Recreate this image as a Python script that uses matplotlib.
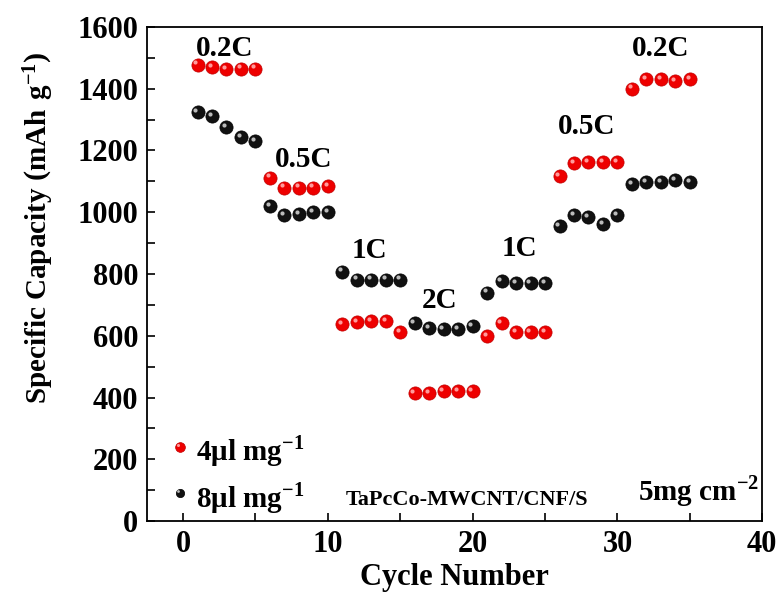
import matplotlib
matplotlib.use('Agg')
import matplotlib.pyplot as plt
from matplotlib.transforms import offset_copy
from matplotlib.ticker import MultipleLocator

plt.rcParams['font.family'] = ['Liberation Serif', 'DejaVu Serif']
plt.rcParams['mathtext.fontset'] = 'custom'
plt.rcParams['mathtext.rm'] = 'Liberation Serif:bold'
plt.rcParams['mathtext.bf'] = 'Liberation Serif:bold'

cycles = list(range(1, 36))
cap_4ul = [1478, 1470, 1462, 1465, 1465,
           1112, 1080, 1080, 1080, 1085,
           638, 645, 648, 648, 612,
           415, 415, 420, 422, 422,
           600, 640, 612, 612, 612,
           1118, 1160, 1162, 1162, 1162,
           1400, 1430, 1430, 1425, 1432]
cap_8ul = [1325, 1312, 1275, 1243, 1230,
           1020, 990, 995, 1000, 1000,
           808, 782, 782, 782, 782,
           642, 625, 622, 622, 632,
           740, 778, 770, 770, 770,
           955, 990, 985, 962, 990,
           1090, 1098, 1098, 1105, 1098]

rate_labels = ['0.2C', '0.5C', '1C', '2C', '1C', '0.5C', '0.2C']
rate_x = [2.9, 8.3, 12.9, 17.7, 23.2, 27.9, 33.0]
rate_y = [1506, 1146, 853, 691, 857, 1253, 1506]

fig = plt.figure(figsize=(7.81, 5.97), dpi=100)
ax = fig.add_axes([0.188, 0.127, 0.788, 0.828])

hl = offset_copy(ax.transData, fig=fig, x=-1.6, y=1.6, units='points')

ax.plot(cycles, cap_4ul, 'o', color='#ee0000', ms=9.5, mec='#c00000', mew=0.5)
ax.plot(cycles, cap_4ul, 'o', color='#ff9a9a', ms=3, mew=0, transform=hl)
ax.plot(cycles, cap_8ul, 'o', color='#111111', ms=9.5, mec='#000000', mew=0.5)
ax.plot(cycles, cap_8ul, 'o', color='#bbbbbb', ms=3, mew=0, transform=hl)

for t, x, y in zip(rate_labels, rate_x, rate_y):
    ax.text(x, y, t, ha='center', va='baseline', fontsize=21, fontweight='bold')

# legend drawn by hand
ax.plot([-0.2], [240], 'o', color='#ee0000', ms=7, mec='#c00000', mew=0.5)
ax.plot([-0.2], [240], 'o', color='#ff9a9a', ms=2.2, mew=0, transform=hl)
ax.plot([-0.2], [91], 'o', color='#111111', ms=6, mec='#000000', mew=0.5)
ax.plot([-0.2], [91], 'o', color='#bbbbbb', ms=2, mew=0, transform=hl)
ax.text(0.9, 198, '4\u03bcl mg$^{-1}$', va='baseline', fontsize=21, fontweight='bold')
ax.text(0.9, 45, '8\u03bcl mg$^{-1}$', va='baseline', fontsize=21, fontweight='bold')
ax.text(11.2, 52, 'TaPcCo-MWCNT/CNF/S', va='baseline', fontsize=16, fontweight='bold')
ax.text(31.4, 68, '5mg cm$^{-2}$', va='baseline', fontsize=21, fontweight='bold')

ax.set_xlim(-2.5, 40)
ax.set_ylim(0, 1600)
ax.xaxis.set_major_locator(MultipleLocator(10))
ax.xaxis.set_minor_locator(MultipleLocator(5))
ax.yaxis.set_major_locator(MultipleLocator(200))
ax.yaxis.set_minor_locator(MultipleLocator(100))
ax.tick_params(which='both', direction='in', top=False, right=False,
               width=1.2)
ax.tick_params(which='major', length=6, labelsize=22, pad=6)
ax.tick_params(which='minor', length=6)
for lab in ax.get_xticklabels() + ax.get_yticklabels():
    lab.set_fontweight('bold')
for s in ax.spines.values():
    s.set_linewidth(1.3)

ax.set_xlabel('Cycle Number', fontsize=22, fontweight='bold', labelpad=3)
ax.set_ylabel('Specific Capacity $\\left(\\mathrm{mAh\\ g^{-1}}\\right)$',
              fontsize=21, fontweight='bold')
ax.yaxis.set_label_coords(-0.148, 0.593)

fig.savefig('out.png', dpi=100)
